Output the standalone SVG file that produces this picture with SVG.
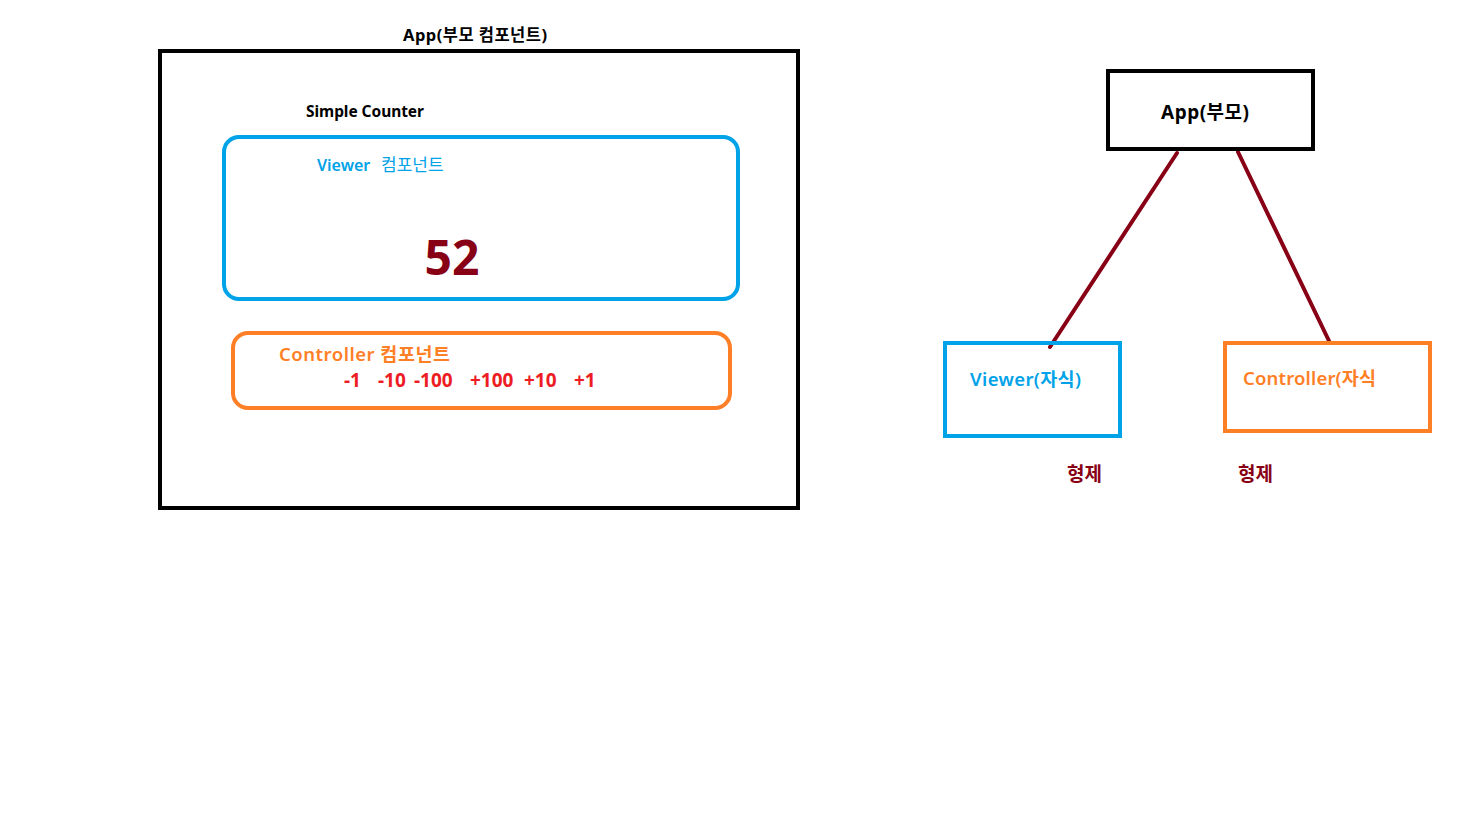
<svg xmlns="http://www.w3.org/2000/svg" width="1458" height="815" viewBox="0 0 1458 815">
<style>
text{font-family:"Noto Sans","Noto Sans CJK KR",sans-serif;}
.b{font-weight:bold;}
.blk{fill:#000;}
.blue{fill:#00a2e8;}
.org{fill:#ff7f27;}
.red{fill:#ed1c24;}
.dred{fill:#880015;}
.box{fill:none;stroke-width:4;}
</style>
<rect width="1458" height="815" fill="#fff"/>
<g id="app-outer">
<rect class="box" x="160" y="51" width="638" height="457" stroke="#000"/>
<text class="b blk" x="403" y="41" font-size="16.5" textLength="144">App(부모 컴포넌트)</text>
<text class="b blk" x="306" y="117" font-size="15.5" textLength="118">Simple Counter</text>
</g>
<g id="viewer-comp">
<rect class="box" x="224" y="137" width="514" height="162" rx="15" stroke="#00a2e8"/>
<text class="blue" x="317" y="171" font-size="16"><tspan font-weight="600">Viewer</tspan><tspan x="381" font-size="17">컴포넌트</tspan></text>
<text class="b dred" x="452" y="275" font-size="48" text-anchor="middle">52</text>
</g>
<g id="controller-comp">
<rect class="box" x="233" y="333" width="497" height="75" rx="15" stroke="#ff7f27"/>
<text class="org" x="279" y="361" font-size="18.5" font-weight="600" textLength="171">Controller 컴포넌트</text>
<text class="b red" y="387" font-size="19"><tspan x="344">-1</tspan><tspan x="378">-10</tspan><tspan x="414">-100</tspan><tspan x="470">+100</tspan><tspan x="524">+10</tspan><tspan x="574">+1</tspan></text>
</g>
<g id="connectors" stroke="#880015" stroke-width="4" stroke-linecap="round">
<line x1="1177" y1="153" x2="1050" y2="347"/>
<line x1="1238" y1="152" x2="1330" y2="343"/>
</g>
<g id="app-parent">
<rect class="box" x="1108" y="71" width="205" height="78" stroke="#000"/>
<text class="b blk" x="1161" y="119" font-size="19" textLength="88">App(부모)</text>
</g>
<g id="viewer-child">
<rect class="box" x="945" y="343" width="175" height="93" stroke="#00a2e8"/>
<text class="blue" x="970" y="386" font-size="18.5" font-weight="600" textLength="111">Viewer(자식)</text>
</g>
<g id="controller-child">
<rect class="box" x="1225" y="343" width="205" height="88" stroke="#ff7f27"/>
<text class="org" x="1243" y="385" font-size="18.5" font-weight="600" textLength="133">Controller(자식</text>
</g>
<g id="sibling-labels">
<text class="b dred" x="1067" y="481" font-size="19">형제</text>
<text class="b dred" x="1238" y="481" font-size="19">형제</text>
</g>
</svg>
